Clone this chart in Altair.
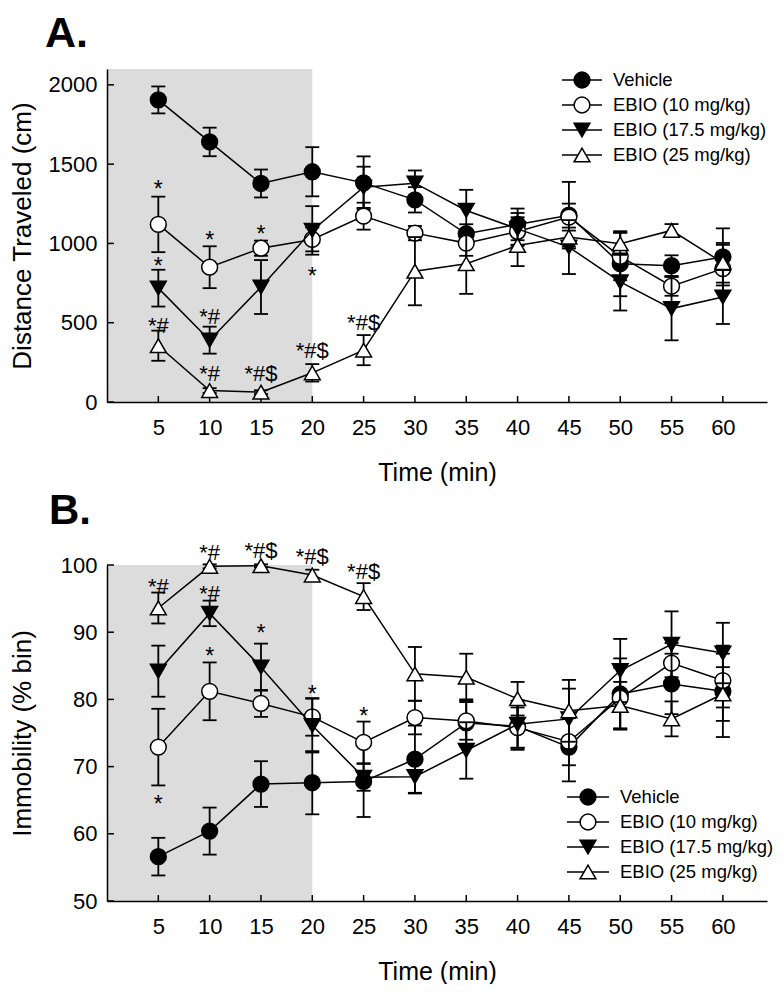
import altair as alt
import pandas as pd

# ---------------- data ----------------
times = [5, 10, 15, 20, 25, 30, 35, 40, 45, 50, 55, 60]
series_names = ["Vehicle", "EBIO (10 mg/kg)", "EBIO (17.5 mg/kg)", "EBIO (25 mg/kg)"]
series_shapes = ["circle", "circle", "triangle-down", "triangle-up"]
series_fills = ["black", "white", "black", "white"]

# Panel A: distance traveled (cm), mean and SEM
dist_vehicle = [1905, 1640, 1378, 1452, 1382, 1275, 1061, 1120, 1178, 872, 860, 915]
dist_vehicle_sem = [85, 90, 88, 155, 167, 80, 60, 100, 210, 205, 65, 180]
dist_e10 = [1120, 850, 970, 1025, 1172, 1065, 1002, 1075, 1166, 918, 730, 841]
dist_e10_sem = [175, 132, 48, 75, 85, 45, 80, 90, 85, 150, 60, 150]
dist_e17 = [718, 390, 725, 1082, 1354, 1380, 1208, 1092, 977, 757, 589, 662]
dist_e17_sem = [116, 85, 170, 153, 130, 80, 130, 100, 170, 180, 200, 170]
dist_e25 = [355, 72, 62, 184, 327, 825, 872, 987, 1040, 998, 1082, 878]
dist_e25_sem = [95, 15, 12, 55, 95, 215, 190, 130, 60, 70, 40, 125]

# Panel B: immobility (% bin), mean and SEM
imm_vehicle = [56.6, 60.4, 67.4, 67.6, 67.8, 71.1, 76.5, 76.0, 72.9, 80.8, 82.3, 81.2]
imm_vehicle_sem = [2.8, 3.5, 3.4, 4.7, 5.3, 5.0, 3.5, 3.5, 5.1, 5.3, 4.5, 6.8]
imm_e10 = [72.9, 81.2, 79.4, 77.4, 73.6, 77.3, 76.8, 75.8, 73.7, 80.2, 85.4, 82.8]
imm_e10_sem = [5.7, 4.3, 2.0, 2.8, 3.1, 2.5, 2.8, 3.0, 3.5, 4.5, 3.0, 4.0]
imm_e17 = [84.2, 92.8, 84.8, 76.1, 68.4, 68.5, 72.4, 76.3, 77.1, 84.3, 88.2, 86.9]
imm_e17_sem = [3.8, 1.9, 3.5, 4.0, 2.0, 2.5, 4.2, 3.5, 4.5, 4.7, 4.9, 4.5]
imm_e25 = [93.6, 99.8, 99.9, 98.5, 95.3, 83.8, 83.3, 80.1, 78.3, 79.1, 77.1, 80.8]
imm_e25_sem = [2.3, 0.3, 0.2, 0.8, 2.0, 4.0, 3.5, 2.5, 4.6, 3.5, 2.6, 4.0]

# significance marks
annA_t = [5, 5, 5, 10, 10, 10, 15, 15, 20, 20, 25]
annA_y = [1375, 887, 484, 1054, 541, 180, 1092, 180, 826, 327, 505]
annA_txt = ["*", "*", "*#", "*", "*#", "*#", "*", "*#$", "*", "*#$", "*#$"]

annB_t = [5, 5, 10, 10, 10, 15, 15, 20, 20, 25, 25]
annB_y = [96.9, 65.2, 101.9, 95.9, 87.2, 102.2, 90.6, 101.3, 81.5, 99.1, 78.3]
annB_txt = ["*#", "*", "*#", "*#", "*", "*#$", "*", "*#$", "*", "*#$", "*"]

panel_letters = ["A.", "B."]
y_titles = ["Distance Traveled (cm)", "Immobility (% bin)"]
x_title = "Time (min)"
yticks_A = [0, 500, 1000, 1500, 2000]
yticks_B = [50, 60, 70, 80, 90, 100]
shade_range = [0, 20]

FONT = "Liberation Sans"
W = 660
X_DOMAIN = [0, 64.3]


def panel(means, sems, ann_t, ann_y, ann_txt, ydomain, yticks, ytitle, H,
          letter, letter_pos, letter_size, legend_rows, legend_x):
    xscale = alt.Scale(domain=X_DOMAIN, nice=False, zero=False)
    yscale = alt.Scale(domain=ydomain, nice=False, zero=False)
    xaxis = alt.Axis(values=times, title=x_title, labelPadding=15, titlePadding=22,
                     titleFontSize=25, labelFlush=False, labelOverlap=False, zindex=1)
    yaxis = alt.Axis(values=yticks, title=ytitle, format="d", labelPadding=10,
                     titleFontSize=26, titleX=-85, titleY=H / 2, titleBaseline="middle",
                     titleAlign="center", titleAngle=270, zindex=1)

    def X(f):
        return alt.X(f, type="quantitative", scale=xscale, axis=xaxis)

    def Y(f):
        return alt.Y(f, type="quantitative", scale=yscale, axis=yaxis)

    shade_df = pd.DataFrame({"x0": [shade_range[0]], "x1": [shade_range[1]],
                             "y0": [ydomain[0]], "y1": [ydomain[1]]})
    layers = [alt.Chart(shade_df).mark_rect(color="#dcdcdc").encode(
        x=X("x0"), x2="x1", y=Y("y0"), y2="y1")]

    # inward ticks
    layers.append(alt.Chart(pd.DataFrame({"t": times})).mark_rule(
        color="black", strokeWidth=1.5).encode(
        x=X("t"), y=alt.value(H), y2=alt.value(H - 6)))
    layers.append(alt.Chart(pd.DataFrame({"v": yticks})).mark_rule(
        color="black", strokeWidth=1.5).encode(
        y=Y("v"), x=alt.value(0), x2=alt.value(7)))

    for i in range(4):
        m = means[i]
        s = sems[i]
        df = pd.DataFrame({"t": times, "m": m,
                           "lo": [a - b for a, b in zip(m, s)],
                           "hi": [a + b for a, b in zip(m, s)]})
        base = alt.Chart(df)
        layers.append(base.mark_line(color="black", strokeWidth=1.5).encode(
            x=X("t"), y=Y("m")))
        layers.append(base.mark_rule(color="black", strokeWidth=1.8).encode(
            x=X("t"), y=Y("lo"), y2="hi"))
        for end in ["lo", "hi"]:
            layers.append(base.mark_tick(orient="horizontal", size=14, thickness=1.8,
                                         color="black", opacity=1).encode(
                x=X("t"), y=Y(end)))
        layers.append(base.mark_point(shape=series_shapes[i], filled=True,
                                      fill=series_fills[i], stroke="black",
                                      strokeWidth=1.5, size=250, opacity=1).encode(
            x=X("t"), y=Y("m")))

    ann_df = pd.DataFrame({"t": ann_t, "y": ann_y, "txt": ann_txt})
    single = ann_df[ann_df["txt"] == "*"]
    multi = ann_df[ann_df["txt"] != "*"]
    layers.append(alt.Chart(single).mark_text(font=FONT, fontSize=23, color="black",
                                              baseline="middle", dy=6).encode(
        x=X("t"), y=Y("y"), text="txt:N"))
    layers.append(alt.Chart(multi).mark_text(font=FONT, fontSize=22, color="black",
                                             baseline="middle", dy=1).encode(
        x=X("t"), y=Y("y"), text="txt:N"))

    layers.append(alt.Chart(pd.DataFrame({"lab": [letter]})).mark_text(
        font=FONT, fontSize=letter_size, fontWeight="bold", color="black",
        align="left", baseline="top").encode(
        x=alt.value(letter_pos[0]), y=alt.value(letter_pos[1]), text="lab:N"))

    data_layer = alt.layer(*layers)

    # manual legend
    leg_df = pd.DataFrame({"label": series_names, "row": [0, 1, 2, 3]})
    ly = alt.Y("row:Q", scale=alt.Scale(domain=[0, 3], range=legend_rows), axis=None)
    lbase = alt.Chart(leg_df)
    leg_rule = lbase.mark_rule(color="black", strokeWidth=1.5).encode(
        x=alt.value(legend_x[0]), x2=alt.value(legend_x[1]), y=ly)
    leg_pt = lbase.mark_point(filled=True, stroke="black", strokeWidth=1.5,
                              size=250, opacity=1).encode(
        x=alt.value((legend_x[0] + legend_x[1]) / 2), y=ly,
        shape=alt.Shape("label:N", scale=alt.Scale(domain=series_names, range=series_shapes),
                        legend=None),
        fill=alt.Fill("label:N", scale=alt.Scale(domain=series_names, range=series_fills),
                      legend=None))
    leg_txt = lbase.mark_text(font=FONT, fontSize=18.5, color="black", align="left",
                              baseline="middle").encode(
        x=alt.value(legend_x[2]), y=ly, text="label:N")
    legend_layer = alt.layer(leg_rule, leg_pt, leg_txt)

    return alt.layer(data_layer, legend_layer).resolve_scale(
        y="independent").properties(width=W, height=H)


HA = 333
HB = 336
panelA = panel([dist_vehicle, dist_e10, dist_e17, dist_e25],
               [dist_vehicle_sem, dist_e10_sem, dist_e17_sem, dist_e25_sem],
               annA_t, annA_y, annA_txt, [0, 2100], yticks_A, y_titles[0], HA,
               panel_letters[0], (-62, -56), 43, [11, 86], (455, 495, 506))
panelB = panel([imm_vehicle, imm_e10, imm_e17, imm_e25],
               [imm_vehicle_sem, imm_e10_sem, imm_e17_sem, imm_e25_sem],
               annB_t, annB_y, annB_txt, [50, 100], yticks_B, y_titles[1], HB,
               panel_letters[1], (-58, -74), 42, [232, 307], (460, 502, 513))

chart = alt.vconcat(panelA, panelB, spacing=5).properties(
    padding={"left": 1, "top": 5, "right": 0, "bottom": 0}
).configure_view(stroke=None).configure_axis(
    grid=False, domainColor="black", domainWidth=1.5, ticks=False, tickSize=0,
    labelColor="black", titleColor="black", labelFont=FONT, titleFont=FONT,
    labelFontSize=22, titleFontSize=25, titleFontWeight="normal"
)

chart.save("out.html", embed_options={"renderer": "svg", "actions": False})
